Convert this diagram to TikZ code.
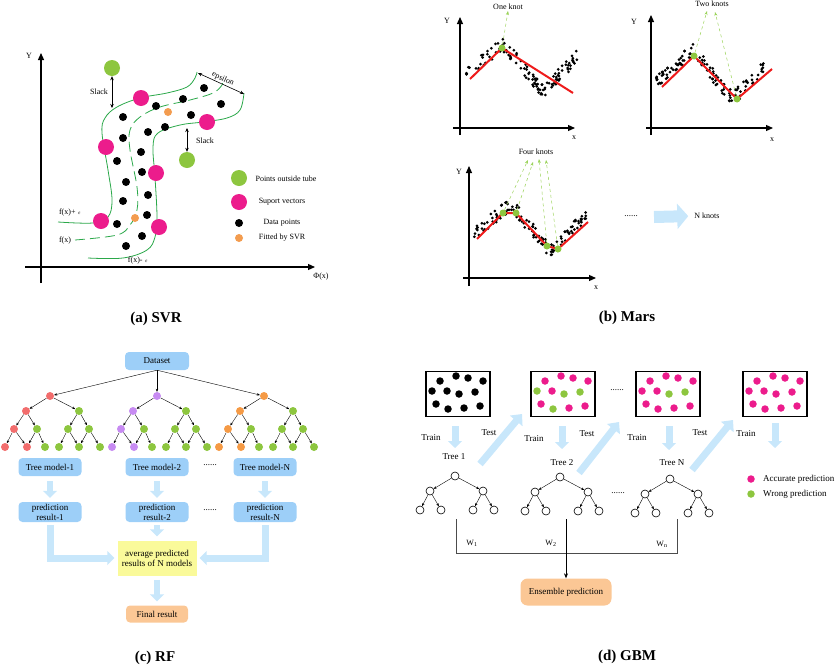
\documentclass[tikz,border=0pt]{standalone}
\usepackage{fontspec}
\setmainfont{Liberation Serif}
\usepackage{tikz}
\usetikzlibrary{arrows.meta}
\usepackage{xcolor}

\definecolor{ptgreen}{HTML}{8DC63F}
\definecolor{ptpink}{HTML}{EC1C8C}
\definecolor{ptorange}{HTML}{F39C4F}
\definecolor{tubegreen}{HTML}{2BA84A}
\definecolor{boxblue}{HTML}{9DCFF8}
\definecolor{fatblue}{HTML}{C8E7FB}
\definecolor{avgyellow}{HTML}{FAFA9A}
\definecolor{resorange}{HTML}{FBC795}
\definecolor{rfred}{HTML}{F26D6D}
\definecolor{rfpurple}{HTML}{C78BF2}
\definecolor{rforange}{HTML}{F59A45}
\definecolor{marsred}{HTML}{EE1B1B}
\definecolor{knotgreen}{HTML}{9BD35A}

\tikzset{
  lbl/.style={font=\fontsize{9}{10}\selectfont, inner sep=1pt},
  smalllbl/.style={font=\fontsize{8}{9}\selectfont, inner sep=1pt},
  captext/.style={font=\fontsize{15}{17}\selectfont\bfseries},
  axis/.style={line width=1.2pt, -{Triangle[length=7pt,width=6pt]}},
  bigdot/.style={circle, inner sep=0pt, minimum size=16pt},
  smalldot/.style={circle, fill=black, inner sep=0pt, minimum size=8pt},
  tube/.style={tubegreen, line width=0.8pt},
  dbl/.style={line width=0.6pt, {Stealth[length=4pt,width=3.5pt]}-{Stealth[length=4pt,width=3.5pt]}},
  redfit/.style={marsred, line width=2pt},
  knot/.style={circle, fill=ptgreen, inner sep=0pt, minimum size=7pt},
  knotarrow/.style={knotgreen, dashed, line width=0.5pt, -{Stealth[length=4pt,width=3pt]}},
  fatarrow/.style={fatblue, line width=6pt, -{Triangle[width=14pt,length=7pt]}},
  gbmarrow/.style={fatblue, line width=7pt, -{Triangle[width=16pt,length=9pt]}},
  bluebox/.style={rounded corners=4pt, fill=boxblue, lbl, align=center},
  rfdot/.style={circle, inner sep=0pt, minimum size=8pt},
  treearrow/.style={line width=0.4pt, -{Stealth[length=3pt,width=2.5pt]}},
  gbox/.style={draw, line width=1.3pt, minimum width=64pt, minimum height=45pt},
  gdot/.style={circle, inner sep=0pt, minimum size=7.5pt},
  gnode/.style={circle, draw, fill=white, line width=0.6pt, inner sep=0pt, minimum size=8pt},
}

% scatter of one MARS plot: left x, middle y, seed
\newcommand{\knotdata}[3]{%
  \pgfmathsetseed{#3}
  \foreach \i in {1,...,120}{
    \pgfmathsetmacro{\u}{56+56*rand}
    \pgfmathsetmacro{\v}{ifthenelse(\u<37, 6-30*\u/37, ifthenelse(\u<77, -24+1.2*(\u-37), 24-36*(\u-77)/35))}
    \pgfmathsetmacro{\w}{\v+7*rand}
    \fill (#1+\u, #2+\w) circle (1.5pt);
  }%
}

\begin{document}
\begin{tikzpicture}[x=1pt, y=-1pt]
  \useasboundingbox (0,0) rectangle (835,667);

  % (a) SVR
  \draw[axis] (41,283) -- (41,53);
  \draw[axis] (25,267) -- (315,267);
  \node[smalllbl] (ya) at (29,56) {Y};
  \node[smalllbl] (xa) at (321,277) {Φ(x)};

  \draw[tube] plot[smooth, tension=0.6] coordinates {(58,222) (93,223) (108,217) (112,200) (108,170) (102,133) (105,118) (117,107) (140,98) (167,93) (187,87) (195,78) (197,72)};
  \draw[tube, dash pattern=on 10pt off 5pt] plot[smooth, tension=0.6] coordinates {(75,240) (117,235) (130,225) (137,210) (137,187) (130,150) (130,130) (140,117) (160,107) (190,100) (213,93) (222,85) (223,80)};
  \draw[tube] plot[smooth, tension=0.6] coordinates {(88,258) (123,258) (147,250) (155,237) (157,217) (155,177) (153,147) (158,133) (180,125) (203,122) (227,118) (240,110) (244,93)};

  \foreach \x/\y [count=\i] in {204/88,183/99,156/106,221/104,123/117,191/115,165/127,148/132,123/138,141/152,117/161,142/172,126/182,148/195,123/201,147/215,117/224,142/236,126/246}
    \node[smalldot] (dp\i) at (\x,\y) {};
  \node[smalldot, fill=ptorange] (fit1) at (168,112) {};
  \node[smalldot, fill=ptorange] (fit2) at (135,218) {};
  \foreach \x/\y [count=\i] in {141/98,106/147,207/122,156/173,101/221,159/227}
    \node[bigdot, fill=ptpink] (sv\i) at (\x,\y) {};
  \node[bigdot, fill=ptgreen] (out1) at (112,68) {};
  \node[bigdot, fill=ptgreen] (out2) at (187,160) {};

  \coordinate (sl1) at (112,108);
  \coordinate (sl2) at (187,128);
  \draw[dbl] (out1) -- (sl1);
  \draw[dbl] (sl2) -- (out2);
  \node[smalllbl] (slack1) at (99,92) {Slack};
  \node[smalllbl] (slack2) at (205,141) {Slack};
  \coordinate (ep1) at (198,73);
  \coordinate (ep2) at (244,94);
  \draw[dbl] (ep1) -- node[sloped, above, smalllbl] (eps) {epsilon} (ep2);
  \node[smalllbl] (fp) at (70,213) {f(x)+ $\scriptscriptstyle\varepsilon$};
  \node[smalllbl] (fm) at (65,241) {f(x)};
  \node[smalllbl] (fn) at (138,261) {f(x)- $\scriptscriptstyle\varepsilon$};

  % legend
  \node[bigdot, fill=ptgreen] (lg1) at (239,178) {};
  \node[bigdot, fill=ptpink] (lg2) at (239,202) {};
  \node[smalldot] (lg3) at (239,223) {};
  \node[smalldot, fill=ptorange] (lg4) at (239,238) {};
  \node[smalllbl] (lt1) at (286,179) {Points outside tube};
  \node[smalllbl] (lt2) at (282,202) {Suport vectors};
  \node[smalllbl] (lt3) at (282,223) {Data points};
  \node[smalllbl] (lt4) at (282,238) {Fitted by SVR};
  \node[captext] (capa) at (156,319) {(a) SVR};

  % (b) Mars
  \draw[axis] (460,135) -- (460,17);
  \draw[axis] (453,128) -- (575,128);
  \node[smalllbl] (yb1) at (447,21) {Y};
  \node[smalllbl] (xb1) at (574,138) {x};
  \knotdata{466}{68}{11}
  \draw[redfit] (470,79) -- (502,48) -- (573,93);
  \node[knot] (k11) at (502,48) {};
  \node[smalllbl] (t1) at (508,7) {One knot};
  \draw[knotarrow] (k11) -- (t1.south);

  \draw[axis] (651,135) -- (651,15);
  \draw[axis] (646,128) -- (773,128);
  \node[smalllbl] (yb2) at (634,22) {Y};
  \node[smalllbl] (xb2) at (772,140) {x};
  \knotdata{656}{75}{23}
  \draw[redfit] (662,87) -- (694,56) -- (737,99) -- (772,69);
  \node[knot] (k21) at (694,56) {};
  \node[knot] (k22) at (737,99) {};
  \node[smalllbl] (t2) at (712,4) {Two knots};
  \coordinate (t2a) at (707,11);
  \coordinate (t2b) at (715,12);
  \draw[knotarrow] (k21) -- (t2a);
  \draw[knotarrow] (k22) -- (t2b);

  \draw[axis] (469,286) -- (469,166);
  \draw[axis] (463,278) -- (596,278);
  \node[smalllbl] (yb3) at (459,172) {Y};
  \node[smalllbl] (xb3) at (596,288) {x};
  \knotdata{474}{228}{37}
  \draw[redfit] (477,239) -- (503,213) -- (516,213) -- (547,246) -- (558,249) -- (588,222);
  \node[knot] (k41) at (503,213) {};
  \node[knot] (k42) at (516,213) {};
  \node[knot] (k43) at (547,246) {};
  \node[knot] (k44) at (558,249) {};
  \node[smalllbl] (t4) at (536,152) {Four knots};
  \coordinate (t4a) at (528,160);
  \coordinate (t4b) at (533,162);
  \coordinate (t4c) at (539,159);
  \coordinate (t4d) at (546,160);
  \draw[knotarrow] (k41) -- (t4a);
  \draw[knotarrow] (k42) -- (t4b);
  \draw[knotarrow] (k43) -- (t4c);
  \draw[knotarrow] (k44) -- (t4d);

  \node[lbl] (mdots) at (631,216) {......};
  \node[smalllbl] (nk) at (707,216) {N knots};
  \coordinate (ma) at (654,217);
  \draw[fatblue, line width=12pt, -{Triangle[width=25pt,length=11pt]}, shorten >=5pt] (ma) -- (nk.west);
  \node[captext] (capb) at (627,318) {(b) Mars};

  % (c) RF
  \node[bluebox, minimum width=64pt, minimum height=18pt] (data) at (157,361) {Dataset};
  \foreach \t/\rx/\tc in {1/50/rfred, 2/157/rfpurple, 3/264/rforange}{
    \node[rfdot, fill=\tc] (r\t) at (\rx,396) {};
    \node[rfdot, fill=\tc] (r\t-l) at (\rx-24,411) {};
    \node[rfdot, fill=ptgreen] (r\t-r) at (\rx+29,411) {};
    \node[rfdot, fill=\tc] (r\t-ll) at (\rx-36,429) {};
    \node[rfdot, fill=ptgreen] (r\t-lr) at (\rx-13,429) {};
    \node[rfdot, fill=ptgreen] (r\t-rl) at (\rx+18,429) {};
    \node[rfdot, fill=ptgreen] (r\t-rr) at (\rx+39,429) {};
    \node[rfdot, fill=\tc] (r\t-1) at (\rx-45,447) {};
    \node[rfdot, fill=\tc] (r\t-2) at (\rx-23,447) {};
    \node[rfdot, fill=ptgreen] (r\t-3) at (\rx-5,447) {};
    \node[rfdot, fill=ptgreen] (r\t-4) at (\rx+9,447) {};
    \node[rfdot, fill=ptgreen] (r\t-5) at (\rx+29,447) {};
    \node[rfdot, fill=ptgreen] (r\t-6) at (\rx+50,447) {};
    \draw[treearrow] (data.south) -- (r\t);
    \draw[treearrow] (r\t) -- (r\t-l);
    \draw[treearrow] (r\t) -- (r\t-r);
    \draw[treearrow] (r\t-l) -- (r\t-ll);
    \draw[treearrow] (r\t-l) -- (r\t-lr);
    \draw[treearrow] (r\t-r) -- (r\t-rl);
    \draw[treearrow] (r\t-r) -- (r\t-rr);
    \draw[treearrow] (r\t-ll) -- (r\t-1);
    \draw[treearrow] (r\t-ll) -- (r\t-2);
    \draw[treearrow] (r\t-lr) -- (r\t-2);
    \draw[treearrow] (r\t-lr) -- (r\t-3);
    \draw[treearrow] (r\t-rl) -- (r\t-4);
    \draw[treearrow] (r\t-rl) -- (r\t-5);
    \draw[treearrow] (r\t-rr) -- (r\t-5);
    \draw[treearrow] (r\t-rr) -- (r\t-6);
  }
  \node[bluebox, minimum width=63pt, minimum height=18pt] (tm1) at (50,467) {Tree model-1};
  \node[bluebox, minimum width=63pt, minimum height=18pt] (tm2) at (157,467) {Tree model-2};
  \node[bluebox, minimum width=63pt, minimum height=18pt] (tm3) at (265,467) {Tree model-N};
  \node[lbl] (tdots) at (210,465) {......};
  \node[bluebox, minimum width=63pt, minimum height=20pt, inner sep=1pt] (pr1) at (50,512) {prediction\\result-1};
  \node[bluebox, minimum width=63pt, minimum height=20pt, inner sep=1pt] (pr2) at (157,512) {prediction\\result-2};
  \node[bluebox, minimum width=63pt, minimum height=20pt, inner sep=1pt] (pr3) at (265,512) {prediction\\result-N};
  \node[lbl] (pdots) at (210,510) {......};
  \node[fill=avgyellow, minimum width=79pt, minimum height=35pt, lbl, align=center] (avg) at (157,558) {average predicted\\results of N models};
  \node[fill=resorange, rounded corners=4pt, minimum width=62pt, minimum height=17pt, lbl] (final) at (157,614) {Final result};
  \foreach \t in {1,2,3}
    \draw[fatarrow, shorten <=5pt, shorten >=4pt] (tm\t.south) -- (pr\t.north);
  \draw[fatarrow, shorten <=3pt, shorten >=4pt] (pr2.south) -- (avg.north);
  \draw[fatarrow, line width=7pt, shorten <=3pt, shorten >=3pt] (pr1.south) |- (avg.west);
  \draw[fatarrow, line width=7pt, shorten <=3pt, shorten >=3pt] (pr3.south) |- (avg.east);
  \draw[fatarrow, shorten <=4pt, shorten >=4pt] (avg.south) -- (final.north);
  \node[captext] (capc) at (155,658) {(c) RF};

  % (d) GBM
  \node[gbox] (g1) at (458,394) {};
  \node[gbox] (g2) at (563,394) {};
  \node[gbox] (g3) at (668,394) {};
  \node[gbox] (g4) at (775,394) {};
  \foreach \dx/\dy/\dc [count=\i] in {14/9/black,30/4/black,42/6/black,57/9/black,6/19/black,21/19/black,33/22/black,49/20/black,10/32/black,22/37/black,38/36/black,54/34/black}
    \node[gdot, fill=\dc] (g1d\i) at (426+\dx,372+\dy) {};
  \foreach \dx/\dy/\dc [count=\i] in {14/9/ptpink,30/4/ptpink,42/6/ptpink,57/9/ptpink,6/19/ptgreen,21/19/ptpink,33/22/ptgreen,49/20/ptgreen,10/32/ptpink,22/37/ptgreen,38/36/ptpink,54/34/ptpink}
    \node[gdot, fill=\dc] (g2d\i) at (531+\dx,372+\dy) {};
  \foreach \dx/\dy/\dc [count=\i] in {14/9/ptpink,30/4/ptpink,42/6/ptpink,57/9/ptpink,6/19/ptpink,21/19/ptpink,33/22/ptgreen,49/20/ptgreen,10/32/ptpink,22/37/ptpink,38/36/ptpink,54/34/ptpink}
    \node[gdot, fill=\dc] (g3d\i) at (636+\dx,372+\dy) {};
  \foreach \dx/\dy/\dc [count=\i] in {14/9/ptpink,30/4/ptpink,42/6/ptpink,57/9/ptpink,6/19/ptpink,21/19/ptpink,33/22/ptpink,49/20/ptpink,10/32/ptpink,22/37/ptpink,38/36/ptpink,54/34/ptpink}
    \node[gdot, fill=\dc] (g4d\i) at (743+\dx,372+\dy) {};
  \node[lbl] (gdots) at (617,390) {......};

  \node[lbl] (tl1) at (454,457) {Tree 1};
  \node[lbl] (tl2) at (562,463) {Tree 2};
  \node[lbl] (tl3) at (672,463) {Tree N};
  \coordinate (tr1) at (455,448);
  \coordinate (tr2) at (562,449);
  \coordinate (tr3) at (669,450);
  \coordinate (tr4) at (775,448);
  \draw[fatarrow, line width=7pt, shorten <=9pt] (g1.south -| tr1) -- (tr1);
  \draw[fatarrow, line width=7pt, shorten <=9pt] (g2.south -| tr2) -- (tr2);
  \draw[fatarrow, line width=7pt, shorten <=9pt] (g3.south -| tr3) -- (tr3);
  \draw[fatarrow, line width=7pt, shorten <=6pt] (g4.south -| tr4) -- (tr4);
  \node[lbl] (tn1) at (431,438) {Train};
  \node[lbl] (tn2) at (534,439) {Train};
  \node[lbl] (tn3) at (637,438) {Train};
  \node[lbl] (tn4) at (746,434) {Train};
  \node[lbl] (ts1) at (489,433) {Test};
  \node[lbl] (ts2) at (587,434) {Test};
  \node[lbl] (ts3) at (700,433) {Test};
  \coordinate (ta1) at (480,464);
  \coordinate (tb1) at (522,414);
  \coordinate (ta2) at (579,473);
  \coordinate (tb2) at (619,422);
  \coordinate (ta3) at (692,470);
  \coordinate (tb3) at (733,420);
  \foreach \t in {1,2,3}
    \draw[gbmarrow] (ta\t) -- (tb\t);

  \foreach \t/\rx/\ry in {1/455/476, 2/560/477, 3/670/479}{
    \node[gnode] (gt\t) at (\rx,\ry) {};
    \node[gnode] (gt\t-l) at (\rx-25,\ry+15) {};
    \node[gnode] (gt\t-r) at (\rx+28,\ry+15) {};
    \node[gnode] (gt\t-1) at (\rx-35,\ry+34) {};
    \node[gnode] (gt\t-2) at (\rx-14,\ry+34) {};
    \node[gnode] (gt\t-3) at (\rx+18,\ry+34) {};
    \node[gnode] (gt\t-4) at (\rx+39,\ry+34) {};
    \draw[treearrow] (gt\t) -- (gt\t-l);
    \draw[treearrow] (gt\t) -- (gt\t-r);
    \draw[treearrow] (gt\t-l) -- (gt\t-1);
    \draw[treearrow] (gt\t-l) -- (gt\t-2);
    \draw[treearrow] (gt\t-r) -- (gt\t-3);
    \draw[treearrow] (gt\t-r) -- (gt\t-4);
  }
  \node[lbl] (trdots) at (618,493) {......};

  \node[gdot, fill=ptpink] (lga) at (751,479) {};
  \node[gdot, fill=ptgreen] (lgw) at (751,494) {};
  \node[lbl, anchor=west] (lta) at (762,479) {Accurate prediction};
  \node[lbl, anchor=west] (ltw) at (762,494) {Wrong prediction};

  \coordinate (wa) at (456,519);
  \coordinate (wb) at (566,519);
  \coordinate (wc) at (677,519);
  \draw[line width=0.6pt, black!70] (wa) -- ++(0,34) -| (wc);
  \node[fill=resorange, rounded corners=7pt, minimum width=91pt, minimum height=27pt, lbl] (ens) at (566,592) {Ensemble prediction};
  \draw[line width=0.6pt, -{Stealth[length=5pt,width=4pt]}] (wb) -- (ens.north);
  \node[smalllbl] (w1) at (472,543) {W\textsubscript{1}};
  \node[smalllbl] (w2) at (551,543) {W\textsubscript{2}};
  \node[smalllbl] (wn) at (662,544) {W\textsubscript{n}};
  \node[captext] (capd) at (627,657) {(d) GBM};
\end{tikzpicture}
\end{document}
